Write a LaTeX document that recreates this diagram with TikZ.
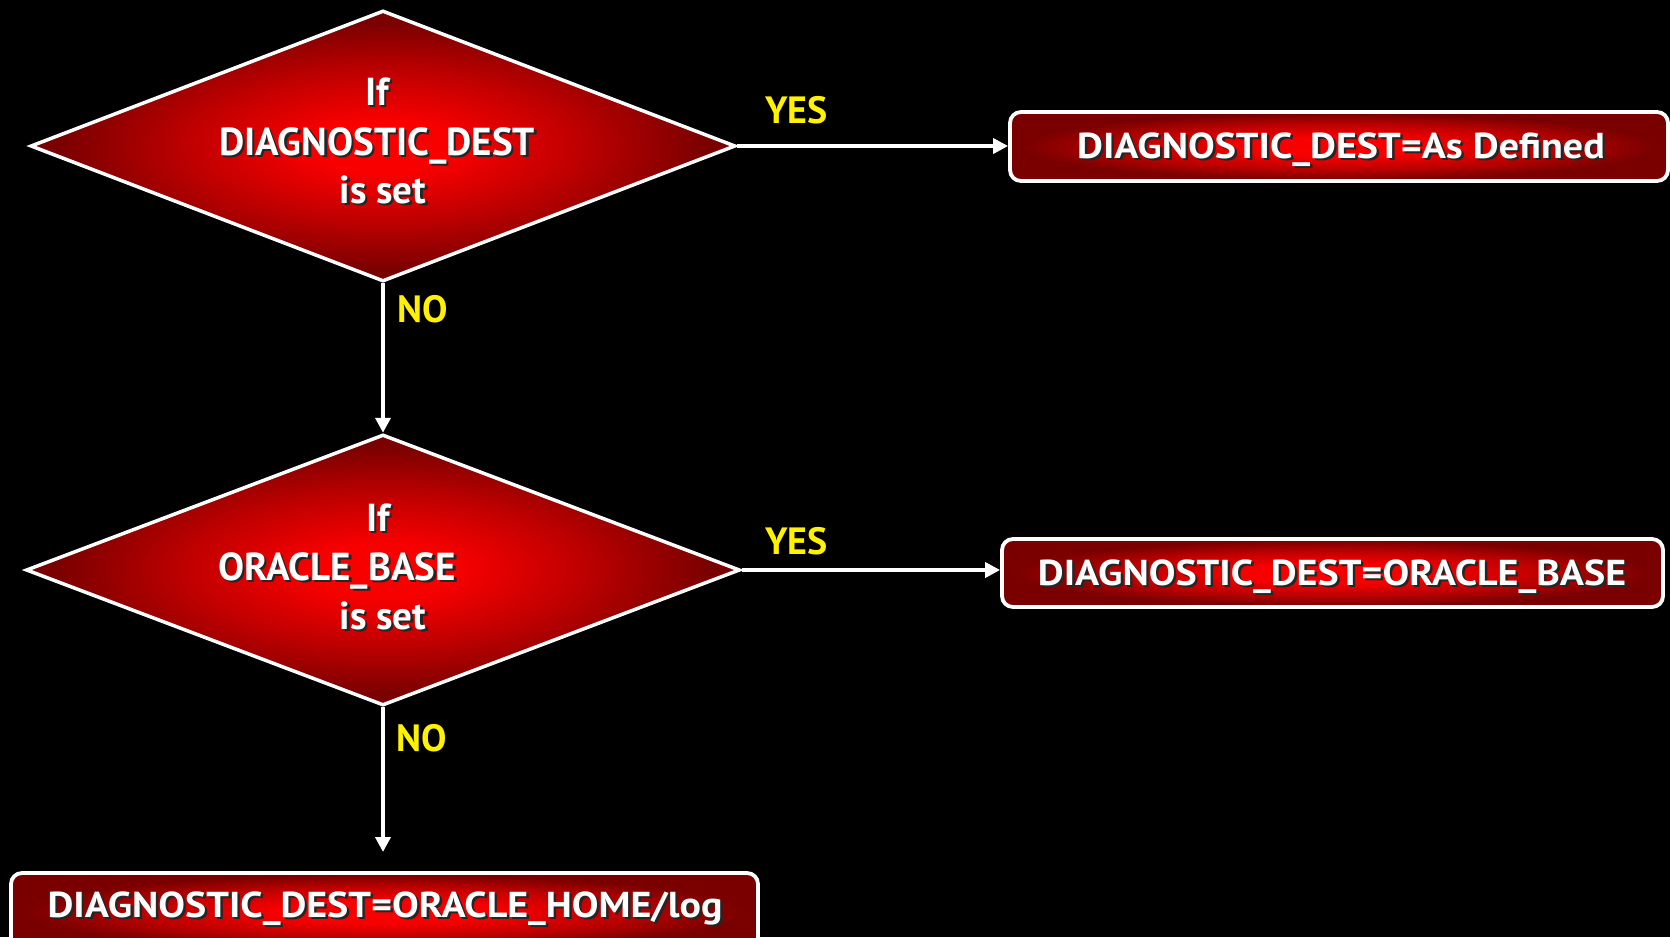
\documentclass[tikz,border=0pt]{standalone}
\usepackage{fontspec}
\setmainfont{PT Sans}
\newfontfamily\widefont{PT Sans}[FakeStretch=1.11]
\usetikzlibrary{arrows.meta,shapes.geometric}

\definecolor{glowin}{RGB}{248,0,0}
\definecolor{glowmid}{RGB}{190,0,0}
\definecolor{glowout}{RGB}{122,0,0}
\pgfdeclareradialshading{diamglow}{\pgfpoint{0bp}{0bp}}{%
  color(0bp)=(glowin); color(5bp)=(glowin); color(14bp)=(glowmid);
  color(23bp)=(glowout); color(50bp)=(glowout)}
\pgfdeclareradialshading{boxglow}{\pgfpoint{0bp}{0bp}}{%
  color(0bp)=(glowin); color(7bp)=(glowin); color(16bp)=(glowmid);
  color(24bp)=(glowout); color(50bp)=(glowout)}

% white lettering with a dark drop shadow
\newcommand\shtext[1]{\makebox[0pt][l]{\hspace{2.5pt}\raisebox{-2.5pt}{\color{black!85}#1}}#1}

\tikzset{
  decision/.style={diamond, draw=white, line width=3.5pt, shading=diamglow,
    minimum height=271pt, inner sep=0pt},
  result/.style={rectangle, rounded corners=11pt, draw=white, line width=3.8pt,
    shading=boxglow, inner sep=0pt},
  flow/.style={draw=white, line width=4pt, -{Triangle[length=15pt,width=15pt]}},
  answer/.style={anchor=base west, inner sep=0pt, text=yellow,
    font=\bfseries\fontsize{38}{38}\selectfont},
  caption/.style={anchor=base, text=white, inner sep=0pt,
    font=\bfseries\fontsize{39}{40}\selectfont},
  boxtext/.style={anchor=base, text=white, inner sep=0pt,
    font=\widefont\bfseries\fontsize{36}{38}\selectfont},
}

\begin{document}
\begin{tikzpicture}[x=1pt, y=-1pt]
  \fill[black] (0,0) rectangle (1670,937);
  \useasboundingbox (0,0) rectangle (1670,937);

  % decisions
  \node[decision, minimum width=705pt] (d1) at (383,146) {};
  \node[decision, minimum width=714pt] (d2) at (383,570) {};

  \node[caption] (d1a) at (377,105) {\shtext{If}};
  \node[caption] (d1b) at (377,155) {\shtext{DIAGNOSTIC\_DEST}};
  \node[caption] (d1c) at (383,203) {\shtext{is set}};

  \node[caption] (d2a) at (378,531) {\shtext{If}};
  \node[caption] (d2b) at (337,580) {\shtext{ORACLE\_BASE}};
  \node[caption] (d2c) at (383,629) {\shtext{is set}};

  % outcomes
  \node[result, minimum width=658pt, minimum height=69pt] (r1) at (1339,146.5) {};
  \node[boxtext] (r1t) at (1341,158) {\shtext{DIAGNOSTIC\_DEST=As Defined}};

  \node[result, minimum width=661pt, minimum height=68pt] (r2) at (1332.5,573) {};
  \node[boxtext] (r2t) at (1332,585) {\shtext{DIAGNOSTIC\_DEST=ORACLE\_BASE}};

  \node[result, minimum width=747pt, minimum height=78pt] (r3) at (384.5,912) {};
  \node[boxtext] (r3t) at (385,917) {\shtext{DIAGNOSTIC\_DEST=ORACLE\_HOME/log}};

  % connectors
  \coordinate (end3) at (383,852);
  \draw[flow] (d1.east) -- (r1.west |- d1.east);
  \draw[flow] (d1.south) -- (d2.north);
  \draw[flow] (d2.east) -- (r2.west |- d2.east);
  \draw[flow] (d2.south) -- (end3);

  % answers
  \node[answer] (y1) at (765,123) {YES};
  \node[answer] (n1) at (397,322) {NO};
  \node[answer] (y2) at (765,554) {YES};
  \node[answer] (n2) at (396,751) {NO};
\end{tikzpicture}
\end{document}
